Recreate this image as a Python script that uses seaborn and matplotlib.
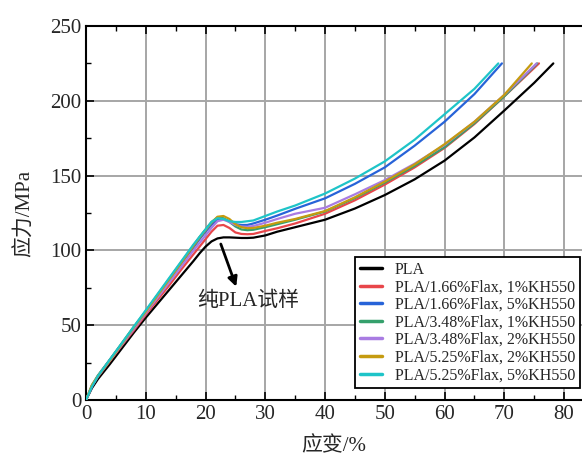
import numpy as np
import pandas as pd
import matplotlib
matplotlib.use("Agg")
import matplotlib.pyplot as plt
import seaborn as sns

# common strain grid (%); each sample adds its own break points
strain = [0, 1, 2, 4, 6, 8, 10, 12, 14, 16, 18, 19, 20, 21, 22, 23, 24, 25, 26, 27, 28,
          30, 32, 35, 40, 45, 50, 55, 60, 65]

samples = ["PLA",
           "PLA/1.66%Flax, 1%KH550",
           "PLA/1.66%Flax, 5%KH550",
           "PLA/3.48%Flax, 1%KH550",
           "PLA/3.48%Flax, 2%KH550",
           "PLA/5.25%Flax, 2%KH550",
           "PLA/5.25%Flax, 5%KH550"]

pla_tail = [70, 75, 78.2]
pla = [0, 8, 14, 24, 34.5, 45, 55, 64.5, 74, 83.5, 93, 98, 102.5, 106, 108, 108.7, 108.7, 108.5, 108.3,
       108.3, 108.5, 110, 112.5, 115.5, 120.5, 128, 137, 147.5, 160, 175.5, 193.5, 212, 225]

f166_k1_tail = [70, 75.8]
f166_k1 = [0, 9.5, 15.5, 26, 36.5, 46.5, 57, 67, 77, 87.5, 97.5, 102.5, 107.5, 112.5, 116.5, 117, 115,
           112, 111, 110.8, 111, 113, 114.8, 118, 124.5, 133.5, 144, 155.5, 168.5, 184.5, 203, 225]

f166_k5_tail = [69.6]
f166_k5 = [0, 9, 16, 27, 37.5, 48, 59, 70, 80.5, 91.5, 102, 107.5, 112.5, 117, 120.5, 121, 119.5,
           117.5, 117, 117, 118, 120.5, 123.3, 127.8, 134.8, 144.5, 155.5, 170, 186, 204.5, 225]

f348_k1_tail = [70, 75.5]
f348_k1 = [0, 10, 16.5, 27, 38, 49, 59.5, 70.5, 81.5, 92.5, 103.5, 109, 114, 119, 122, 121.5, 119,
           116, 114, 113.5, 113.8, 115.5, 117.5, 120.5, 126, 135, 145.3, 156.5, 169, 185, 203, 225]

f348_k2_tail = [70, 75.4]
f348_k2 = [0, 9.5, 16, 26.5, 37, 47.5, 58, 68.5, 79, 89.5, 100, 105, 110, 115, 119.5, 120.5, 119,
           117, 116, 115.8, 116.3, 118.5, 121, 124.5, 128.5, 137.5, 147, 158, 170.5, 186, 204, 225]

f525_k2_tail = [70, 74.6]
f525_k2 = [0, 10, 16, 26.5, 37.5, 48.5, 59, 70, 81, 92, 103, 108.5, 113.5, 118.5, 122.5, 123, 121,
           117.5, 115.5, 114.8, 115, 116.5, 118.5, 121, 126.3, 135.5, 146, 157.5, 171, 186, 204, 225]

f525_k5_tail = [69]
f525_k5 = [0, 9, 16, 27, 38, 49, 60, 71, 82, 93, 104, 109, 114, 119, 121.5, 121, 119.5, 119, 119,
           119.5, 120, 123, 126, 130, 138, 148, 159.5, 174, 191, 208, 225]

colors = ["#000000", "#e8464a", "#2763d8", "#35a06c", "#a97ce2", "#c59b10", "#1ec4c8"]

series = [(pla, pla_tail), (f166_k1, f166_k1_tail), (f166_k5, f166_k5_tail),
          (f348_k1, f348_k1_tail), (f348_k2, f348_k2_tail), (f525_k2, f525_k2_tail),
          (f525_k5, f525_k5_tail)]

frames = []
for name, (vals, tail) in zip(samples, series):
    frames.append(pd.DataFrame({"strain": strain + tail, "stress": vals, "sample": name}))
df = pd.concat(frames, ignore_index=True)

sns.set_style("ticks")
plt.rcParams["font.family"] = ["Liberation Serif", "Noto Sans CJK SC"]

fig = plt.figure(figsize=(5.82, 4.55), dpi=100)
ax = fig.add_axes([86 / 582, 55 / 455, 496 / 582, 374 / 455])

ax.grid(True, which="major", color="#a6a6a6", lw=1.4, zorder=0)
sns.lineplot(data=df, x="strain", y="stress", hue="sample", hue_order=samples,
             palette=colors, estimator=None, sort=False, lw=1.6, ax=ax, zorder=3)

ax.set_xlim(0, 83)
ax.set_ylim(0, 250)
ax.set_xticks(np.arange(0, 81, 10))
ax.set_yticks(np.arange(0, 251, 50))
ax.set_xticks(np.arange(5, 83, 10), minor=True)
ax.set_yticks(np.arange(25, 250, 50), minor=True)
ax.tick_params(which="major", direction="in", length=6, width=1.2, labelsize=15, top=True, color="black")
ax.tick_params(which="minor", direction="in", length=3.5, width=1.0, top=True, color="black")
for s in ["left", "bottom", "top"]:
    ax.spines[s].set_color("black")
    ax.spines[s].set_linewidth(1.5)
ax.spines["right"].set_visible(False)

ax.set_xlabel("应变/%", fontsize=15, labelpad=9)
ax.set_ylabel("应力/MPa", fontsize=15, labelpad=11)

ax.annotate("", xy=(25.3, 74), xytext=(22.4, 106),
            arrowprops=dict(arrowstyle="-|>", color="black", lw=2, mutation_scale=14))
ax.text(27.2, 66, "纯PLA试样", fontsize=15, ha="center", va="center")

leg = ax.legend(loc="lower right", bbox_to_anchor=(0.996, 0.032), borderaxespad=0,
                fontsize=11.5, frameon=True, fancybox=False, edgecolor="black",
                handlelength=1.4, handletextpad=0.8, labelspacing=0.1, borderpad=0.3)
leg.get_frame().set_linewidth(1.3)
leg.get_frame().set_alpha(1)
for line in leg.get_lines():
    line.set_linewidth(2.5)

fig.savefig("out.png", dpi=100)
